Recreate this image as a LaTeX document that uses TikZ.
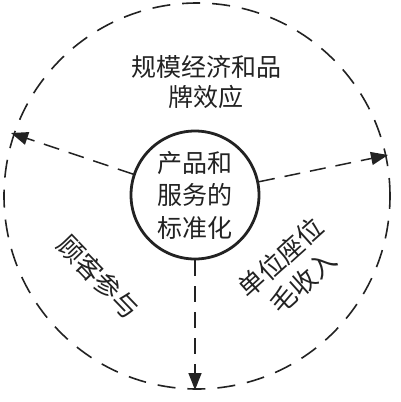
\documentclass[tikz,border=0pt]{standalone}
\usepackage{fontspec}
\newfontfamily\cjk{Noto Sans CJK SC}
\usetikzlibrary{arrows.meta}
\definecolor{ink}{HTML}{222222}
\tikzset{
  outerring/.style={draw=ink, line width=1.6pt, dash pattern=on 18pt off 12pt, circle, minimum size=386pt, inner sep=0pt},
  core/.style={draw=ink, line width=2.8pt, circle, minimum size=128pt, inner sep=0pt},
  flow/.style={draw=ink, line width=1.5pt, dash pattern=on 16pt off 10pt, -{Triangle[length=17pt,width=13pt]}},
  lbl/.style={text=ink, font=\cjk\fontsize{25}{30}\selectfont, align=center, inner sep=0pt},
  rlbl/.style={text=ink, font=\cjk\fontsize{26}{33}\selectfont, align=center, inner sep=0pt}
}
\begin{document}
\begin{tikzpicture}[x=1pt,y=-1pt]
\useasboundingbox[fill=white] (0,0) rectangle (400,402);
\node[outerring] (ring) at (197,196) {};
\node[core] (c) at (195,195) {};
\node[lbl, font=\cjk\fontsize{25}{32.5}\selectfont] (ctext) at (195,195) {产品和\\服务的\\标准化};
\node[lbl] (top) at (206,82) {规模经济和品\\牌效应};
\node[rlbl, rotate=-46] (left) at (99,277) {顾客参与};
\node[rlbl, rotate=42] (right) at (292,270) {单位座位\\毛收入};
\coordinate (ltip) at (11,133);
\coordinate (rtip) at (388,155);
\coordinate (btip) at (195,390);
\draw[flow] (c) -- (ltip);
\draw[flow] (c) -- (rtip);
\draw[flow] (c) -- (btip);
\end{tikzpicture}
\end{document}
